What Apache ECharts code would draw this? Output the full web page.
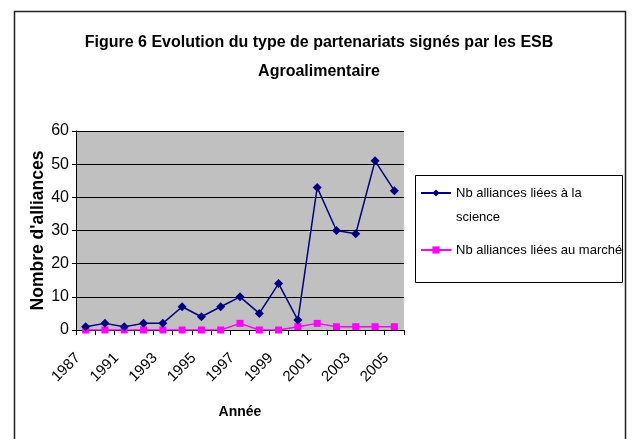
<!DOCTYPE html>
<html><head><meta charset="utf-8">
<script src="https://cdn.jsdelivr.net/npm/echarts@6/dist/echarts.min.js"></script>
<style>html,body{margin:0;padding:0;background:#fff}#c{width:632px;height:439px}</style>
</head><body><div id="c"></div>
<script>
const years = ['1987','1990','1991','1992','1993','1994','1995','1996','1997','1998','1999','2000','2001','2002','2003','2004','2005'];
const scienceValues = [1, 2, 1, 2, 2, 7, 4, 7, 10, 5, 14, 3, 43, 30, 29, 51, 42];
const marketValues = [0, 0, 0, 0, 0, 0, 0, 0, 2, 0, 0, 1, 2, 1, 1, 1, 1];
const yTicks = {min: 0, max: 60, interval: 10};
const seriesNames = ['Nb alliances liées à la science', 'Nb alliances liées au marché'];

const SANS = "'Liberation Sans', Arial, sans-serif";

const chart = echarts.init(document.getElementById('c'), null, {renderer: 'canvas'});
chart.setOption({
  animation: false,
  backgroundColor: '#ffffff',
  title: {
    text: 'Figure 6 Evolution du type de partenariats signés par les ESB\nAgroalimentaire',
    left: 319, top: 28, textAlign: 'center', padding: 0,
    textStyle: {fontFamily: SANS, fontWeight: 'bold', fontSize: 16, color: '#000', lineHeight: 29}
  },
  graphic: [
    {type: 'rect', shape: {x: 14.5, y: 11.5, width: 611, height: 450}, style: {fill: 'none', stroke: '#222', lineWidth: 1.5}, z: 0},
    {type: 'rect', shape: {x: 415.5, y: 175.5, width: 207, height: 107}, style: {fill: '#fff', stroke: '#000', lineWidth: 1}, z: 1}
  ],
  legend: {
    orient: 'vertical', left: 420, top: 157, padding: 0, itemWidth: 30, itemHeight: 9, itemGap: 9,
    data: seriesNames,
    formatter: function(n){ return n === seriesNames[0] ? '\nNb alliances liées à la\nscience' : n; },
    textStyle: {fontFamily: SANS, fontSize: 13, color: '#000', lineHeight: 24}, z: 5
  },
  grid: {left: 76, right: 228, top: 131, bottom: 109, show: true, backgroundColor: '#C0C0C0', borderWidth: 0},
  xAxis: {
    type: 'category', data: years, boundaryGap: true,
    name: 'Année', nameLocation: 'middle', nameGap: 75,
    nameTextStyle: {fontFamily: SANS, fontWeight: 'bold', fontSize: 14, color: '#000'},
    axisLine: {lineStyle: {color: '#000', width: 1}},
    axisTick: {show: true, interval: 0, length: 5, lineStyle: {color: '#000'}},
    axisLabel: {interval: 1, rotate: 45, fontFamily: SANS, fontSize: 15, color: '#000', margin: 18, padding: [0, 11, 0, 0]}
  },
  yAxis: {
    type: 'value', min: yTicks.min, max: yTicks.max, interval: yTicks.interval,
    name: "Nombre d'alliances", nameLocation: 'middle', nameGap: 29, nameMoveOverlap: false,
    nameTextStyle: {fontFamily: SANS, fontWeight: 'bold', fontSize: 17.5, color: '#000'},
    axisLine: {show: true, lineStyle: {color: '#000'}},
    axisTick: {show: true, length: 4, lineStyle: {color: '#000'}},
    splitLine: {lineStyle: {color: '#000', width: 1}},
    axisLabel: {fontFamily: SANS, fontSize: 16, color: '#000', margin: 7}
  },
  series: [
    {name: seriesNames[0], type: 'line', data: scienceValues, color: '#000080', symbol: 'diamond', symbolSize: 9, lineStyle: {width: 1.5, color: '#000080'}, itemStyle: {color: '#000080'}, z: 3},
    {name: seriesNames[1], type: 'line', data: marketValues, color: '#FF00FF', symbol: 'rect', symbolSize: 7, lineStyle: {width: 1.5, color: '#FF00FF'}, itemStyle: {color: '#FF00FF'}, z: 2}
  ]
});
</script></body></html>
